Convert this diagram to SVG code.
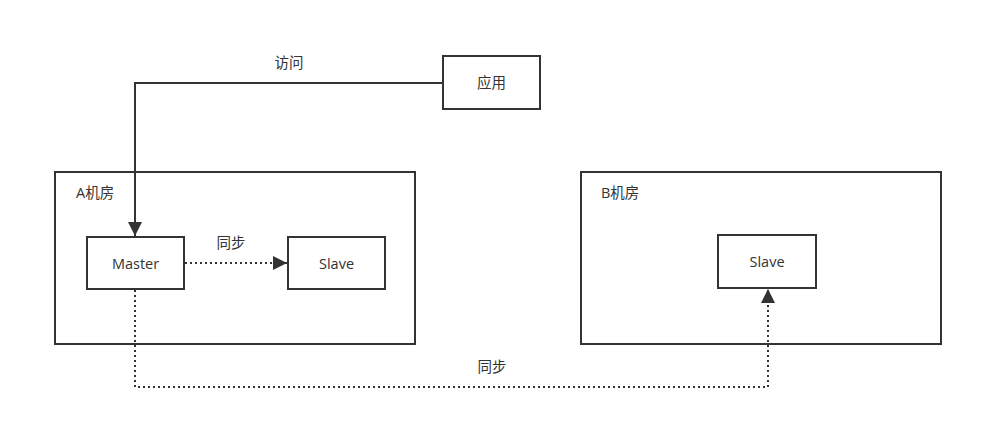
<svg xmlns="http://www.w3.org/2000/svg" width="1001" height="428" viewBox="0 0 1001 428">
<style>
.box{fill:#fff;stroke:#333;stroke-width:2}
.t{font-family:"Open Sans","Noto Sans CJK SC",sans-serif;font-size:14.5px;fill:#333}
.c{fill:none;stroke:#333;stroke-width:2}
.d{stroke-dasharray:2 3}
</style>
<defs>
<marker id="arr" viewBox="0 0 10 10" refX="10" refY="5" markerWidth="7" markerHeight="7" orient="auto" markerUnits="strokeWidth">
<path d="M0,0 L10,5 L0,10 Z" fill="#333"/>
</marker>
</defs>
<rect width="1001" height="428" fill="#fff"/>
<g id="roomA">
<rect class="box" x="55" y="172" width="360" height="172"/>
<text class="t" x="76" y="198">A机房</text>
</g>
<g id="roomB">
<rect class="box" x="581" y="172" width="360" height="172"/>
<text class="t" x="601" y="198">B机房</text>
</g>
<g id="app">
<rect class="box" x="443" y="56" width="97" height="53"/>
<text class="t" x="491.5" y="88" text-anchor="middle">应用</text>
</g>
<g id="master">
<rect class="box" x="87" y="237" width="97" height="52"/>
<text class="t" x="135.5" y="268.5" text-anchor="middle">Master</text>
</g>
<g id="slaveA">
<rect class="box" x="288" y="237" width="97" height="52"/>
<text class="t" x="336.5" y="268.5" text-anchor="middle">Slave</text>
</g>
<g id="slaveB">
<rect class="box" x="718" y="235" width="98" height="53"/>
<text class="t" x="767" y="266.5" text-anchor="middle">Slave</text>
</g>
<g id="connectors">
<path class="c" d="M443,83 H135 V236" marker-end="url(#arr)"/>
<text class="t" x="289" y="68" text-anchor="middle">访问</text>
<path class="c d" d="M185,263 H287" marker-end="url(#arr)"/>
<text class="t" x="231" y="248" text-anchor="middle">同步</text>
<path class="c d" d="M135,290 V387 H768 V289" marker-end="url(#arr)"/>
<text class="t" x="492" y="372" text-anchor="middle">同步</text>
</g>
</svg>
